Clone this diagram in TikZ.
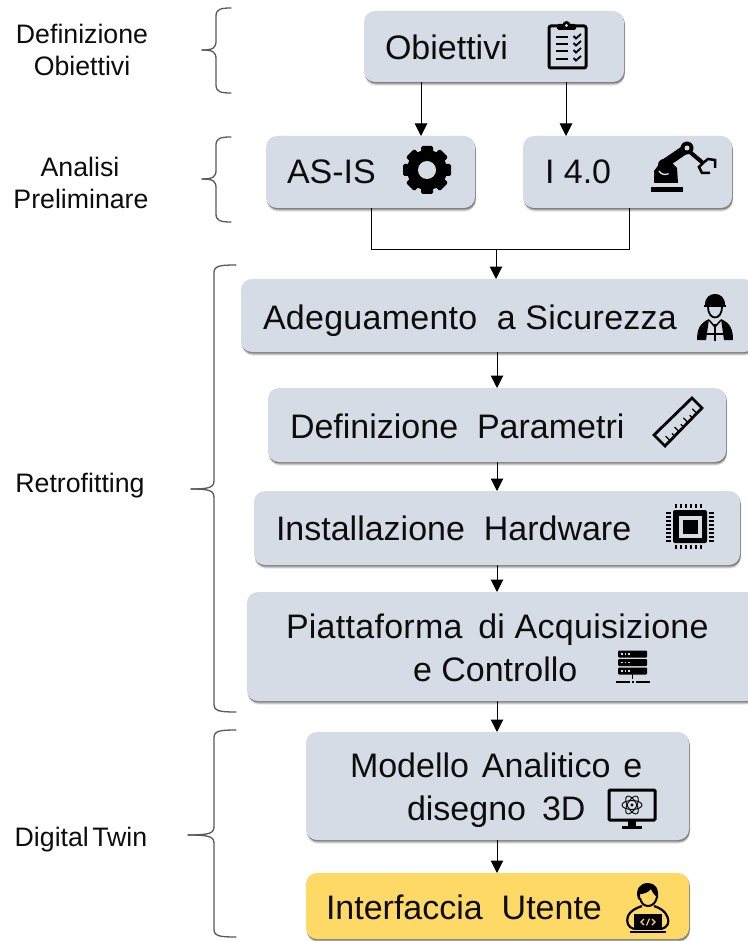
\documentclass[tikz,border=0pt]{standalone}
\usepackage{fontspec}
\setmainfont{Liberation Sans}
\usetikzlibrary{arrows.meta,shadows,calc}
\definecolor{boxgray}{HTML}{D6DCE5}
\definecolor{boxyellow}{HTML}{FFD966}
\definecolor{bracegray}{HTML}{595959}
\tikzset{
  softshadow/.style={
    general shadow={shadow xshift=0.6pt,shadow yshift=-3.6pt,fill=black,opacity=.10},
    general shadow={shadow xshift=1.0pt,shadow yshift=-2.6pt,fill=black,opacity=.20},
    general shadow={shadow xshift=0.8pt,shadow yshift=-1.4pt,fill=black,opacity=.30}},
  flowbox/.style={rectangle,rounded corners=11pt,fill=boxgray,inner sep=0pt,outer sep=0pt,softshadow},
  mainlabel/.style={anchor=base west,inner sep=0pt,outer sep=0pt,font=\fontsize{34}{34}\selectfont,text=black!95},
  sidelabel/.style={anchor=base,inner sep=0pt,outer sep=0pt,font=\fontsize{26.7}{26.7}\selectfont,text=black!95},
  link/.style={draw=black,line width=1pt},
  arrowlink/.style={link,-{Triangle[length=12.5pt,width=12.5pt]}},
  bracepath/.style={draw=bracegray,line width=1.3pt,line cap=round},
  iconline/.style={draw=black,line width=2.4pt},
}
\newcommand{\sbrace}[5]{% xright xspine yend ytip xtip
  \draw[bracepath] (#1,#3) .. controls (#2+5,#3) and (#2,#3+1) .. (#2,#3+8)
    -- (#2,#4-9) .. controls (#2,#4-2) and (#2-3,#4) .. (#5,#4);
}
\newcommand{\sbraceup}[5]{%
  \draw[bracepath] (#1,#3) .. controls (#2+5,#3) and (#2,#3-1) .. (#2,#3-8)
    -- (#2,#4+9) .. controls (#2,#4+2) and (#2-3,#4) .. (#5,#4);
}
\begin{document}
\begin{tikzpicture}[x=1pt,y=-1pt]
\useasboundingbox (0,0) rectangle (747,941);
\fill[white] (0,0) rectangle (747,941);

% boxes
\node[flowbox,minimum width=260pt,minimum height=71pt] (obj) at (494,46.5) {};
\node[flowbox,minimum width=209pt,minimum height=72pt] (asis) at (370.5,172) {};
\node[flowbox,minimum width=209pt,minimum height=72pt] (ind) at (627.5,172) {};
\node[flowbox,minimum width=514pt,minimum height=73pt] (safe) at (498,315.5) {};
\node[flowbox,minimum width=458pt,minimum height=74pt] (param) at (497,425) {};
\node[flowbox,minimum width=486pt,minimum height=74pt] (hw) at (497,528) {};
\node[flowbox,minimum width=510pt,minimum height=109pt] (plat) at (502,646.5) {};
\node[flowbox,minimum width=383pt,minimum height=108pt] (model) at (497.5,786) {};
\node[flowbox,fill=boxyellow,minimum width=383pt,minimum height=66pt] (ui) at (497.5,906) {};

% connector helpers
\coordinate (xa) at (421,0);
\coordinate (xb) at (566,0);
\coordinate (xc) at (371,0);
\coordinate (xd) at (629,0);
\coordinate (xe) at (496,0);
\coordinate (xf) at (497,0);
\coordinate (jn) at (496,249);

\draw[arrowlink] (obj.south -| xa) -- (asis.north -| xa);
\draw[arrowlink] (obj.south -| xb) -- (ind.north -| xb);
\draw[link] (asis.south -| xc) -- (jn -| xc) -- (jn -| xd) -- (ind.south -| xd);
\draw[arrowlink] (jn) -- (safe.north -| xe);
\draw[arrowlink] (safe.south -| xf) -- (param.north -| xf);
\draw[arrowlink] (param.south -| xf) -- (hw.north -| xf);
\draw[arrowlink] (hw.south -| xf) -- (plat.north -| xf);
\draw[arrowlink] (plat.south -| xf) -- (model.north -| xf);
\draw[arrowlink] (model.south -| xf) -- (ui.north -| xf);

% box texts
\node[mainlabel] (tobj) at (385,60) {Obiettivi};
\node[mainlabel] (tasis) at (287,184) {AS-IS};
\node[mainlabel] (tind) at (545,184) {I 4.0};
\node[mainlabel] (tsafe) at (263,329) {\addfontfeature{LetterSpace=0.8}Adeguamento\ \ a Sicurezza};
\node[mainlabel] (tparam) at (290,438) {Definizione\ \ Parametri};
\node[mainlabel] (thw) at (276,540) {Installazione\ \ Hardware};
\node[mainlabel] (tplat) at (286,638) {\addfontfeature{LetterSpace=0.8}Piattaforma\ \hspace{6pt}di Acquisizione};
\node[mainlabel] (tplatb) at (413,681) {e Controllo};
\node[mainlabel] (tmod) at (350,777) {Modello\ \hspace{3.5pt}Analitico\ \hspace{3.5pt}e};
\node[mainlabel] (tmodb) at (407,820) {disegno\ \hspace{6.5pt}3D};
\node[mainlabel] (tui) at (326,919) {Interfaccia\ \ Utente};

% side texts
\node[sidelabel] (l1a) at (82,44) {Definizione};
\node[sidelabel] (l1b) at (82,76) {Obiettivi};
\node[sidelabel] (l2a) at (80,177) {Analisi};
\node[sidelabel] (l2b) at (81,208) {Preliminare};
\node[sidelabel] (l3) at (80,492) {Retrofitting};
\node[sidelabel] (l4) at (81,846) {Digital\hspace{3.5pt}Twin};

% braces
\sbrace{231}{216}{8}{50}{202}
\sbraceup{231}{216}{93}{50}{202}
\sbrace{231}{216}{137}{179}{202}
\sbraceup{231}{216}{222}{179}{202}
\sbrace{236}{214}{265}{489}{191}
\sbraceup{236}{214}{712}{489}{191}
\sbrace{236}{214}{730}{835}{188}
\sbraceup{236}{214}{937}{835}{188}

% clipboard icon
\draw[iconline,line width=3pt,rounded corners=2pt] (549,26) rectangle (586,68);
\fill[black,rounded corners=1.5pt] (557,24) rectangle (576,30);
\fill[black] (566.5,25) circle (4pt);
\fill[boxgray] (566.5,25.5) circle (1.6pt);
\foreach \yy in {37,44,51,59}{
  \draw[black,line width=2.4pt] (556,\yy) -- (568,\yy);
  \draw[black,line width=1.8pt] (573.5,\yy-1) -- (576,\yy+1.5) -- (581,\yy-3);
}

% gear icon
\begin{scope}[shift={(427,170)}]
  \fill[black] (0,0) circle (20pt);
  \foreach \aa in {0,45,...,315}{
    \fill[black,rotate=\aa,rounded corners=1.5pt] (-6,-24) rectangle (6,-14);
  }
  \fill[boxgray] (0,0) circle (9pt);
\end{scope}

% robot icon
\fill[black] (651,187) rectangle (683,192);
\fill[black] (654,183) -- (654,171) -- (660,163) -- (672,163) -- (677,168) -- (678,183) -- cycle;
\draw[black,line width=9pt] (664,164) -- (686,149);
\fill[black] (664,165) circle (6pt);
\draw[boxgray,line width=1.4pt] (659,171) arc[start angle=210,end angle=300,radius=7pt];
\fill[black] (687,148) circle (6.5pt);
\fill[boxgray] (687,148) circle (2.5pt);
\draw[black,line width=4pt] (690,152) -- (703,163);
\draw[black,line width=2.5pt] (703,163) -- (708,159) -- (715,160) -- (715,168);
\draw[black,line width=2.5pt] (703,163) -- (699,167) -- (702,173) -- (710,173);

% worker icon
\fill[black] (705,305) .. controls (705,297) and (710,294) .. (715,294)
  .. controls (720,294) and (725,297) .. (725,305) -- cycle;
\draw[black,line width=2pt] (704,305.5) -- (726,305.5);
\draw[black,line width=1.8pt] (708,307) .. controls (708,313) and (711,317.5) .. (715,317.5)
  .. controls (719,317.5) and (722,313) .. (722,307);
\fill[black] (697,340) .. controls (697,329) and (700,323) .. (709,319) -- (708,326) -- (706,340) -- cycle;
\fill[black] (733,340) .. controls (733,329) and (730,323) .. (721,319) -- (722,326) -- (724,340) -- cycle;
\draw[black,line width=1.5pt] (715,324) -- (715,341);
\draw[black,line width=1.5pt] (709,320) -- (715,327) -- (721,320);
\draw[black,line width=1.5pt] (704,334) -- (726,334);

% ruler icon
\draw[iconline,line width=2.8pt,line join=miter] (654,435) -- (692,398) -- (702,408) -- (665,446) -- cycle;
\foreach \tkpos/\tklen in {0.14/1,0.26/0.6,0.38/1,0.5/0.6,0.62/1,0.74/0.6,0.86/1}{
  \draw[black,line width=1.3pt] ($(665,446)!\tkpos!(702,408)$) -- ++({-4.5*\tklen},{-4.5*\tklen});
}

% chip icon
\fill[black,rounded corners=2pt] (673,510) rectangle (707,543);
\fill[boxgray] (678.5,515.5) rectangle (701.5,537.5);
\fill[black] (682.5,519.5) rectangle (697.5,533.5);
\foreach \px in {676,681,...,703}{
  \fill[black] (\px-1.2,504) rectangle (\px+1.2,508);
  \fill[black] (\px-1.2,545) rectangle (\px+1.2,549);
}
\foreach \py in {513,517,...,541}{
  \fill[black] (666,\py-1.2) rectangle (671,\py+1.2);
  \fill[black] (709,\py-1.2) rectangle (714,\py+1.2);
}

% server icon
\foreach \sy in {650.5,659,667.5}{
  \fill[black,rounded corners=1pt] (618,\sy) rectangle (647,\sy+7);
  \foreach \sx in {622,625.5,629}{\fill[boxgray] (\sx-.8,\sy+2.7) rectangle (\sx+.8,\sy+4.3);}
}
\draw[black,line width=1.6pt] (632.5,674) -- (632.5,679);
\fill[black] (631.5,680.5) rectangle (633.5,683);
\draw[black,line width=1.8pt] (616,682) -- (629.5,682);
\draw[black,line width=1.8pt] (635.5,682) -- (650,682);

% monitor icon
\draw[iconline,line width=3pt,rounded corners=1pt] (609,790) rectangle (655,820);
\fill[black] (628,821) rectangle (636,826);
\fill[black] (622,825.5) rectangle (642,829);
\begin{scope}[shift={(632,805)}]
  \foreach \aa in {0,60,120}{
    \draw[black,line width=.9pt,rotate=\aa] (0,0) ellipse (10pt and 4.5pt);
  }
  \fill[black] (0,0) circle (1.6pt);
\end{scope}

% developer icon
\fill[black] (638,899) .. controls (635,889) and (640,883) .. (648,883)
  .. controls (655,883) and (659,888) .. (658,898)
  .. controls (655,896) and (652,892) .. (651,889) .. controls (648,893) and (643,894) .. (640,894) -- (640,900) -- cycle;
\draw[black,line width=2pt] (640,898) .. controls (641,903) and (644,906) .. (648,906)
  .. controls (653,906) and (656,902) .. (657,897);
\draw[black,line width=2.2pt] (634,929) .. controls (628,927) and (626,923) .. (628,916)
  .. controls (630,911) and (636,908) .. (642,906);
\draw[black,line width=2.2pt] (661,929) .. controls (668,927) and (670,923) .. (667,916)
  .. controls (665,911) and (660,908) .. (654,906);
\fill[black] (634,914) rectangle (662,930);
\draw[black,line width=2pt] (630,932) -- (666,932);
\draw[boxyellow,line width=1.1pt] (644,919) -- (641,922) -- (644,925);
\draw[boxyellow,line width=1.1pt] (652,919) -- (655,922) -- (652,925);
\draw[boxyellow,line width=1.1pt] (649.5,918.5) -- (646.5,925.5);
\end{tikzpicture}
\end{document}
